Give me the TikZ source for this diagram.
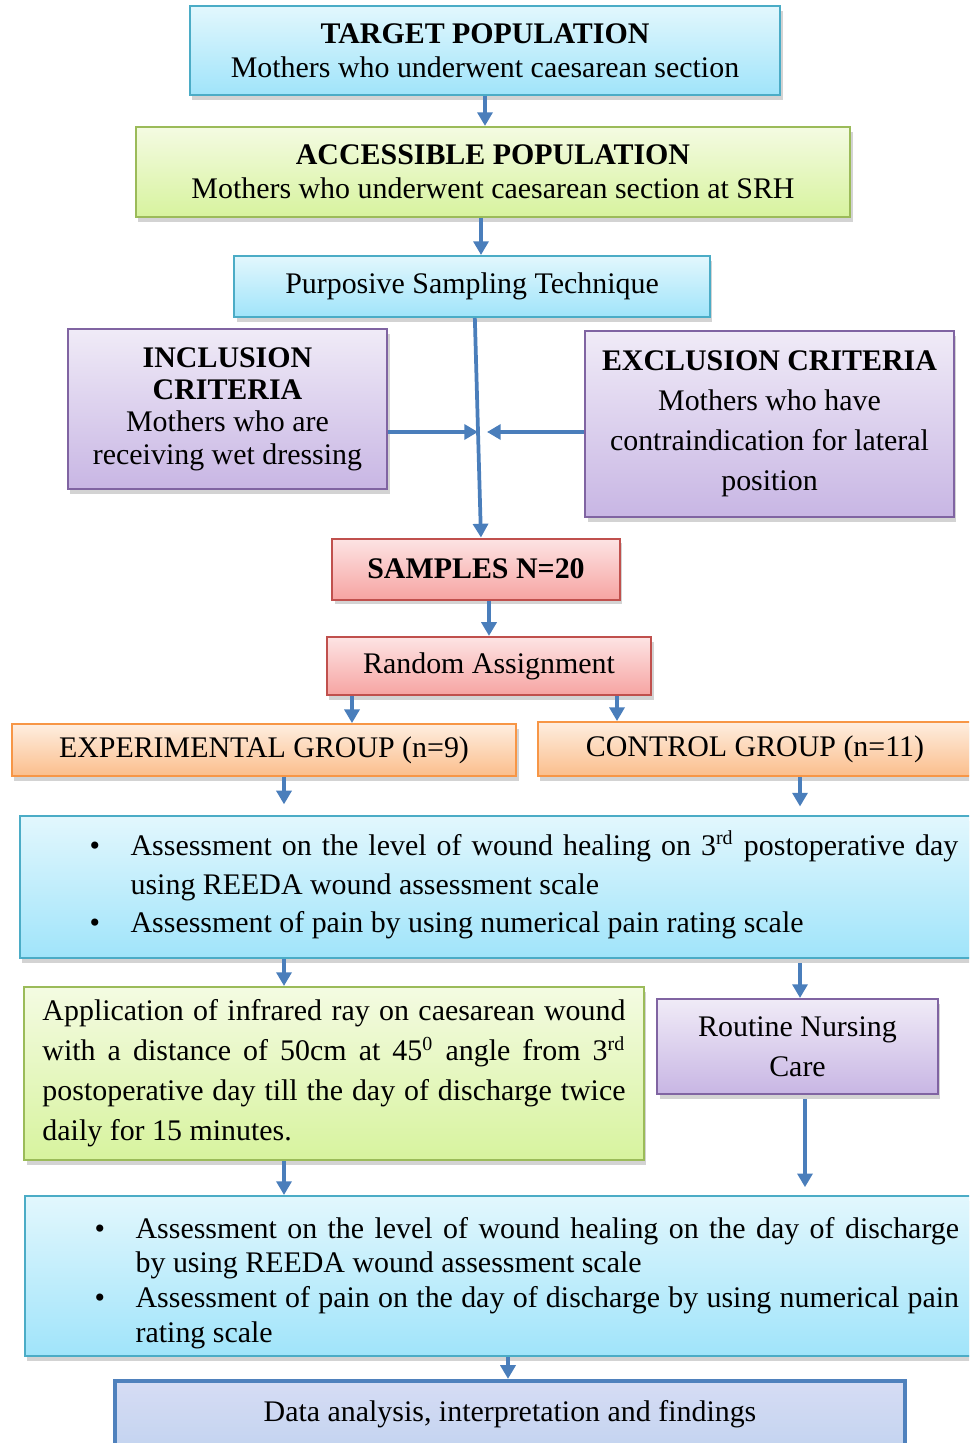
\documentclass[tikz,border=0pt]{standalone}
\usepackage{fontspec}
\setmainfont{Liberation Serif}
\usepackage{xcolor}
\usepackage{tikz}
\usetikzlibrary{arrows.meta, positioning, calc, shadows}

\setlength{\parindent}{0pt}
\setlength{\parskip}{0pt}

\definecolor{cyanTop}{RGB}{226,247,253}
\definecolor{cyanBot}{RGB}{160,228,250}
\definecolor{cyanLine}{RGB}{75,172,198}
\definecolor{greenTop}{RGB}{244,251,226}
\definecolor{greenBot}{RGB}{215,243,158}
\definecolor{greenLine}{RGB}{155,187,89}
\definecolor{purpleTop}{RGB}{240,235,247}
\definecolor{purpleBot}{RGB}{200,182,228}
\definecolor{purpleLine}{RGB}{128,100,162}
\definecolor{redTop}{RGB}{253,228,228}
\definecolor{redBot}{RGB}{246,164,162}
\definecolor{redLine}{RGB}{192,80,77}
\definecolor{orangeTop}{RGB}{254,238,224}
\definecolor{orangeBot}{RGB}{251,190,140}
\definecolor{orangeLine}{RGB}{247,150,70}
\definecolor{arrowBlue}{RGB}{74,126,187}
\definecolor{dataTop}{RGB}{214,220,244}
\definecolor{dataBot}{RGB}{196,212,240}
\definecolor{dataLine}{RGB}{79,129,189}

\newcommand{\bitem}[1]{\par\noindent\hangindent=0.63cm\hangafter=1\makebox[0.63cm][l]{\hspace{0.05cm}\textbullet}#1\par}

\begin{document}
\begin{tikzpicture}[x=0.0141cm, y=-0.0141cm]

\tikzset{
    flowbox/.style={rectangle, align=center, line width=0.8pt,
                    top color=#1Top, bottom color=#1Bot, draw=#1Line,
                    font=\fontsize{12}{13.5}\selectfont,
                    drop shadow={shadow xshift=1pt, shadow yshift=-2pt, opacity=0.35}},
    arr/.style={-{Triangle[length=5.5pt, width=6pt]}, line width=1.5pt, draw=arrowBlue}
}

\useasboundingbox (0,0) rectangle (969,1443);
\clip (0,0) rectangle (969,1443);

% ── columns for the arrows ──
\coordinate (colT) at (481,0);
\coordinate (colE) at (352,0);
\coordinate (colF) at (617,0);
\coordinate (colA) at (284,0);
\coordinate (colB) at (800,0);
\coordinate (colC) at (805,0);
\coordinate (colD) at (508,0);

% ── population ──
\node[flowbox=cyan, minimum width=8.32cm, minimum height=1.25cm] (target) at (485,50.5)
    {\textbf{TARGET POPULATION}\\Mothers who underwent caesarean section};
\node[flowbox=green, minimum width=10.07cm, minimum height=1.27cm] (access) at (493,172)
    {\textbf{ACCESSIBLE POPULATION}\\Mothers who underwent caesarean section at SRH};
\node[flowbox=cyan, minimum width=6.71cm, minimum height=0.86cm] (purp) at (472,286.5)
    {Purposive Sampling Technique};

\draw[arr] (target.south) -- (target.south |- access.north);
\draw[arr] (access.south -| colT) -- (purp.north -| colT);

% ── criteria ──
\node[flowbox=purple, minimum width=4.50cm, minimum height=2.26cm,
      font=\fontsize{12}{13}\selectfont] (incl) at (227.5,409)
    {\textbf{INCLUSION}\\\textbf{CRITERIA}\\Mothers who are\\receiving wet dressing};
\node[flowbox=purple, minimum width=5.20cm, minimum height=2.62cm,
      font=\fontsize{12}{16}\selectfont] (excl) at (769.5,424)
    {\textbf{EXCLUSION CRITERIA}\\Mothers who have\\contraindication for lateral\\position};

\node[flowbox=red, minimum width=4.06cm, minimum height=0.86cm] (samp) at (476,569)
    {\textbf{SAMPLES N=20}};

\coordinate (jl) at (478,432);
\coordinate (jr) at (487,432);
\draw[arr] ([xshift=0.04cm]purp.south) -- ([xshift=0.07cm]samp.north);
\draw[arr] (incl.east |- jl) -- (jl);
\draw[arr] (excl.west |- jr) -- (jr);

% ── assignment ──
\node[flowbox=red, minimum width=4.57cm, minimum height=0.82cm] (rand) at (489,666)
    {Random Assignment};
\node[flowbox=orange, minimum width=7.11cm, minimum height=0.73cm] (exp) at (264,750)
    {EXPERIMENTAL GROUP (n=9)};
\node[flowbox=orange, minimum width=6.12cm, minimum height=0.76cm] (ctrl) at (755,749)
    {CONTROL GROUP (n=11)};

\draw[arr] (samp.south -| rand.north) -- (rand.north);
\draw[arr] (rand.south -| colE) -- (exp.north -| colE);
\draw[arr] (rand.south -| colF) -- (ctrl.north -| colF);

% ── pre assessment ──
\node[flowbox=cyan, anchor=north west, minimum width=14.16cm, minimum height=2.0cm,
      text width=12.30cm, inner xsep=0.93cm, inner ysep=2pt, align=justify,
      font=\fontsize{12}{15.5}\selectfont] (as1) at (19,815)
    {\vspace*{-0.25cm}%
     \bitem{Assessment on the level of wound healing on 3\smash{\textsuperscript{rd}} postoperative day\linebreak using REEDA wound assessment scale}%
     \bitem{Assessment of pain by using numerical pain rating scale}};

\draw[arr, shorten >=0.15cm] (exp.south -| colA) -- (as1.north -| colA);
\draw[arr, shorten >=0.12cm] (ctrl.south -| colB) -- (as1.north -| colB);

% ── intervention ──
\node[flowbox=green, minimum width=8.74cm, minimum height=2.44cm,
      text width=8.22cm, inner xsep=0.26cm, align=justify,
      font=\fontsize{12}{16}\selectfont] (appl) at (334,1073.5)
    {Application of infrared ray on caesarean wound\linebreak with a distance of 50cm at 45\textsuperscript{0} angle from 3\textsuperscript{rd}\linebreak postoperative day till the day of discharge twice\linebreak daily for 15 minutes.};
\node[flowbox=purple, minimum width=3.96cm, minimum height=1.34cm,
      font=\fontsize{12}{16}\selectfont] (rout) at (797.5,1046.5)
    {Routine Nursing\\Care};

\draw[arr] (as1.south -| colA) -- (appl.north -| colA);
\draw[arr, shorten <=0.06cm] (as1.south -| colB) -- (rout.north -| colB);

% ── post assessment ──
\node[flowbox=cyan, anchor=north west, minimum width=14.1cm, minimum height=2.26cm,
      text width=12.24cm, inner xsep=0.93cm, inner ysep=2pt, align=justify,
      font=\fontsize{12}{14}\selectfont] (as2) at (24,1195)
    {\bitem{Assessment on the level of wound healing on the day of discharge\linebreak by using REEDA wound assessment scale}%
     \bitem{Assessment of pain on the day of discharge by using numerical pain\linebreak rating scale}};

\draw[arr] (appl.south -| colA) -- (as2.north -| colA);
\draw[arr, shorten >=0.11cm, shorten <=0.06cm] (rout.south -| colC) -- (as2.north -| colC);

% ── data analysis ──
\node[rectangle, draw=dataLine, line width=1.7pt, top color=dataTop, bottom color=dataBot,
      minimum width=11.14cm, minimum height=0.93cm,
      font=\fontsize{12}{13.5}\selectfont] (data) at (510,1414)
    {Data analysis, interpretation and findings};

\draw[arr] (as2.south -| colD) -- (data.north -| colD);

\end{tikzpicture}
\end{document}
